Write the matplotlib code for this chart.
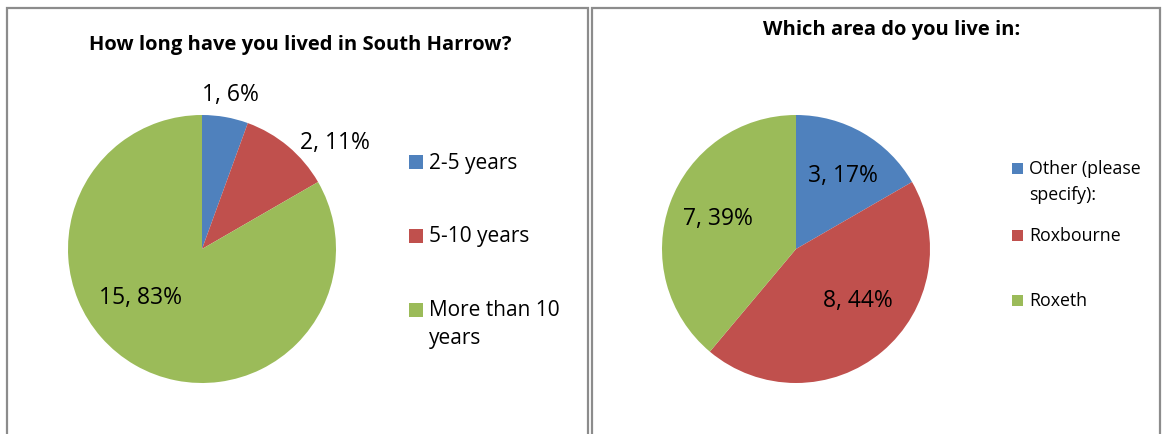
import matplotlib.pyplot as plt
from matplotlib.patches import Rectangle

plt.rcParams['font.family'] = ['Open Sans', 'DejaVu Sans']

# survey answers
years_labels = ['2-5 years', '5-10 years', 'More than 10\nyears']
years_counts = [1, 2, 15]

area_labels = ['Other (please\nspecify):', 'Roxbourne', 'Roxeth']
area_counts = [3, 8, 7]

colors = ['#4F81BD', '#C0504D', '#9BBB59']

W, H = 1166, 435
fig = plt.figure(figsize=(W / 100, H / 100), dpi=100)


def px(x, y):
    # pixel (from top-left) -> figure fraction
    return x / W, 1 - y / H


def box(x0, y0, x1, y1):
    fig.patches.append(Rectangle(px(x0, y1), (x1 - x0) / W, (y1 - y0) / H,
                                 transform=fig.transFigure, fill=False,
                                 edgecolor='#8c8c8c', linewidth=1.6))


def pie(cx, cy, r, counts, label_pos, label_ha, fs):
    ax = fig.add_axes([(cx - r) / W, 1 - (cy + r) / H, 2 * r / W, 2 * r / H])
    ax.pie(counts, colors=colors, startangle=90, counterclock=False,
           wedgeprops=dict(linewidth=0))
    ax.set_xlim(-1, 1)
    ax.set_ylim(-1, 1)
    ax.set_aspect('auto')
    ax.axis('off')
    total = sum(counts)
    for n, (lx, ly), ha in zip(counts, label_pos, label_ha):
        ax.text(lx, ly, f'{n}, {round(100 * n / total)}%', ha=ha, va='center',
                fontsize=fs, clip_on=False)
    return ax


def legend(x, ys, labels, fs, sq, lsp):
    for i, (y, lab) in enumerate(zip(ys, labels)):
        fig.patches.append(Rectangle(px(x, y + sq / 2), sq / W, sq / H,
                                     transform=fig.transFigure,
                                     facecolor=colors[i], edgecolor='none'))
        for j, line in enumerate(lab.split('\n')):
            fig.text(*px(x + sq + 6, y + j * lsp), line, ha='left',
                     va='center', fontsize=fs)


box(7, 9, 588, 460)
box(592, 9, 1160, 460)

fig.text(*px(300, 45), 'How long have you lived in South Harrow?', ha='center',
         va='center', fontsize=14.5, fontweight='bold')
fig.text(*px(892, 30), 'Which area do you live in:', ha='center',
         va='center', fontsize=14.5, fontweight='bold')

pie(202, 250, 134, years_counts,
    [(0.21, 1.16), (0.73, 0.80), (-0.46, -0.36)], ['center', 'left', 'center'], 16.5)
pie(796, 250, 134, area_counts,
    [(0.35, 0.55), (0.46, -0.38), (-0.58, 0.23)], ['center', 'center', 'center'], 16.5)

legend(409, [163, 237, 311], years_labels, 15, 14, 28)
legend(1012, [169.5, 236, 301.5], area_labels, 12.8, 11, 26)

fig.savefig('out.png', dpi=100)
